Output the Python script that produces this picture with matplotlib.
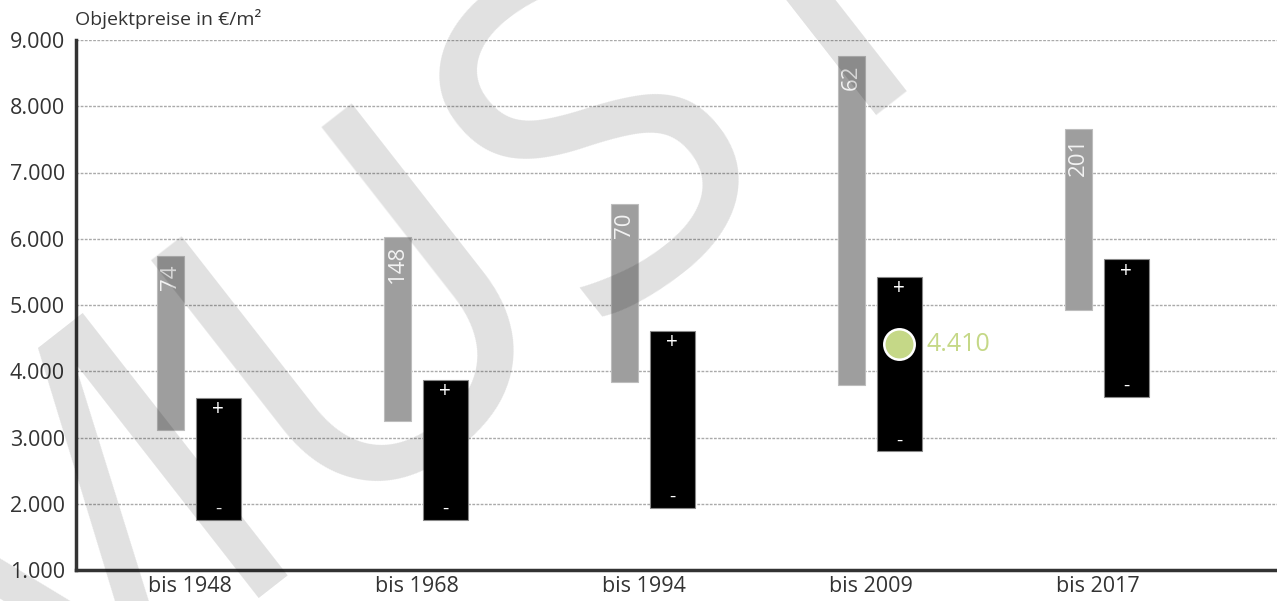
import numpy as np
import matplotlib.pyplot as plt
from matplotlib.ticker import FuncFormatter

plt.rcParams['font.family'] = ['Open Sans', 'DejaVu Sans']

# data
categories = ['bis 1948', 'bis 1968', 'bis 1994', 'bis 2009', 'bis 2017']
grey_low = [3110, 3250, 3840, 3790, 4930]
grey_high = [5740, 6030, 6520, 8760, 7650]
grey_labels = ['74', '148', '70', '62', '201']
black_low = [1750, 1750, 1940, 2790, 3610]
black_high = [3600, 3870, 4610, 5430, 5690]
marker_cat = 3
marker_value = 4410

x = np.arange(len(categories))
grey_off, grey_w = -0.084, 0.119
black_off, black_w = 0.126, 0.198

fig = plt.figure(figsize=(12.77, 6.01), dpi=100)
ax = fig.add_axes([76 / 1277, 31 / 601, 1 - 76 / 1277, 530 / 601])

# watermark
fig.text(0.548, 0.636, 'MUSTER', fontsize=335, rotation=38, rotation_mode='anchor',
         color='black', alpha=0.12, ha='center', va='baseline', zorder=10)

ax.bar(x + grey_off, np.array(grey_high) - np.array(grey_low), grey_w, bottom=grey_low,
       color='#9e9e9e', edgecolor='#bdbdbd', linewidth=0.8, zorder=3)
ax.bar(x + black_off, np.array(black_high) - np.array(black_low), black_w, bottom=black_low,
       color='black', edgecolor='#888888', linewidth=0.8, zorder=3)

for i in range(len(categories)):
    ax.annotate(grey_labels[i], (x[i] + grey_off, grey_high[i]), xytext=(0, -6),
                textcoords='offset points', rotation=90, ha='center', va='top',
                color='#f2f2f2', fontsize=16, zorder=4)
    ax.annotate('+', (x[i] + black_off, black_high[i]), xytext=(0, -8.5),
                textcoords='offset points', ha='center', va='center',
                color='white', fontsize=15, zorder=4)
    ax.annotate('-', (x[i] + black_off, black_low[i]), xytext=(0, 8),
                textcoords='offset points', ha='center', va='center',
                color='white', fontsize=14, zorder=4)

ax.scatter([x[marker_cat] + black_off], [marker_value], s=480, color='#c5d887',
           edgecolor='white', linewidth=1.8, zorder=5)
ax.annotate('4.410', (x[marker_cat] + black_off, marker_value), xytext=(20, 0),
            textcoords='offset points', ha='left', va='center',
            color='#c5d887', fontsize=18, zorder=5)

ax.set_xlim(-0.5, 4.79)
ax.set_ylim(1000, 9000)
ax.set_yticks(range(1000, 9001, 1000))
ax.yaxis.set_major_formatter(FuncFormatter(lambda v, p: f'{int(v):,}'.replace(',', '.')))
ax.set_xticks(x)
ax.set_xticklabels(categories)
ax.tick_params(axis='both', length=0, labelcolor='#333333')
ax.tick_params(axis='y', pad=8, labelsize=15.5)
ax.tick_params(axis='x', pad=4, labelsize=15.5)

ax.grid(axis='y', color='#aaaaaa', linestyle=(0, (2, 1)), linewidth=1, zorder=0)
ax.set_axisbelow(True)
for s in ['top', 'right']:
    ax.spines[s].set_visible(False)
for s in ['left', 'bottom']:
    ax.spines[s].set_color('#333333')
    ax.spines[s].set_linewidth(2.5)
    ax.spines[s].set_zorder(6)

fig.text(75 / 1277, 1 - 19 / 601, 'Objektpreise in €/m²', fontsize=14, color='#333333',
         ha='left', va='center')

fig.savefig('out.png', dpi=100)
